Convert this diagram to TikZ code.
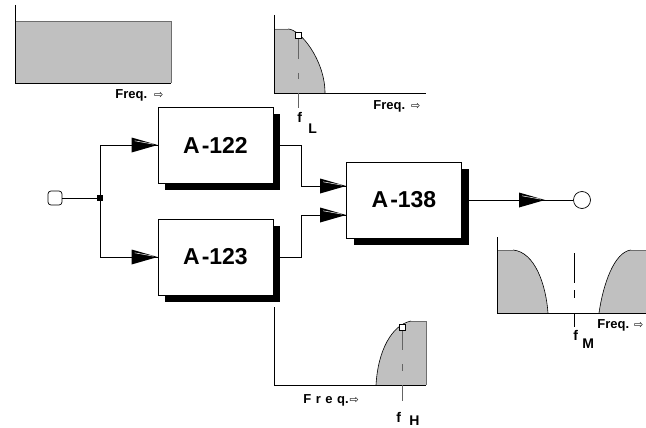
\documentclass[tikz,border=0pt]{standalone}
\usepackage{fontspec}
\setmainfont{Liberation Sans}
\newfontfamily\symfont{DejaVu Sans}
\usetikzlibrary{shadows,calc}
\definecolor{specgray}{RGB}{192,192,192}
\definecolor{rimgray}{RGB}{110,110,110}
\definecolor{tickgray}{RGB}{100,100,100}
\newcommand\freqarrow{{\symfont\mdseries\fontsize{11}{11}\selectfont ⇨}}
\begin{document}
\begin{tikzpicture}[x=1pt,y=-1pt,line width=0.8pt,
  block/.style={draw=black,fill=white,line width=0.8pt,minimum width=115pt,minimum height=76pt,inner sep=0,
    font=\bfseries\fontsize{23}{23}\selectfont,
    drop shadow={shadow xshift=7pt,shadow yshift=-7pt,fill=black,opacity=1}},
  freq/.style={font=\bfseries\fontsize{13}{13}\selectfont,inner sep=0,anchor=base west},
  flab/.style={font=\bfseries\fontsize{14}{14}\selectfont,inner sep=0,anchor=base west},
  curveline/.style={draw=black,line width=0.6pt},
  rimline/.style={draw=rimgray,line width=0.6pt},
  fline/.style={draw=tickgray,line width=0.8pt},
  fmark/.style={draw=black,fill=white,line width=0.5pt,minimum size=6pt,inner sep=0},
  arrhd/.pic={\fill[black] (-26,-7.5) -- (0,0) -- (-26,7.5) -- cycle;
              \draw[white,line width=0.5pt] (-23,-4.2) -- (-4,-0.8);}
]
\useasboundingbox (0,0) rectangle (646,428);

% ---------- top-left spectrum ----------
\fill[specgray] (15,21) rectangle (171,83);
\draw[rimline] (15,21) -- (171,21) -- (171,83);
\draw (15,5) -- (15,83) -- (171,83);
\node[freq] (fq1) at (115,99) {Freq.\hspace{7pt}\freqarrow};

% ---------- top-middle spectrum (f_L) ----------
\fill[specgray] (274,29) -- (288,29) .. controls (300,29) and (325,60) .. (325,93) -- (274,93) -- cycle;
\draw[rimline] (274,29) -- (288,29);
\draw[curveline] (288,29) .. controls (300,29) and (325,60) .. (325,93);
\draw (274,15) -- (274,93) -- (426,93);
\draw[fline] (298,38) -- (298,59);
\draw[fline] (298,73) -- (298,79);
\draw[fline] (298,93) -- (298,108);
\node[fmark] (mkL) at (298,35) {};
\node[flab] (fL) at (297,123) {f};
\node[flab] (fLs) at (308,133) {L};
\node[freq] (fq2) at (373,110) {Freq.\hspace{6pt}\freqarrow};

% ---------- right spectrum (f_M) ----------
\fill[specgray] (497,250) -- (513,250) .. controls (535,252) and (546,285) .. (548,313) -- (497,313) -- cycle;
\draw[curveline] (513,250) .. controls (535,252) and (546,285) .. (548,313);
\fill[specgray] (599,313) .. controls (603,285) and (614,252) .. (631,250) -- (646,250) -- (646,313) -- cycle;
\draw[curveline] (599,313) .. controls (603,285) and (614,252) .. (631,250);
\draw[rimline] (497,250) -- (513,250);
\draw[rimline] (631,250) -- (646,250);
\draw (497,237) -- (497,313) -- (646,313);
\draw (574,253) -- (574,283);
\draw (574,290) -- (574,298);
\draw (574,313) -- (574,327);
\node[flab] (fM) at (573,340) {f};
\node[flab] (fMs) at (582,348) {M};
\node[freq] (fq3) at (597,328) {Freq.\hspace{5pt}\freqarrow};

% ---------- bottom spectrum (f_H) ----------
\fill[specgray] (376,385) .. controls (378,350) and (392,325) .. (411,321) -- (426,321) -- (426,385) -- cycle;
\draw[curveline] (376,385) .. controls (378,350) and (392,325) .. (411,321);
\draw[rimline] (411,321) -- (426,321) -- (426,385);
\draw (274,307) -- (274,385) -- (426,385);
\draw[fline] (402,330) -- (402,350);
\draw[fline] (402,364) -- (402,371);
\draw[fline] (402,385) -- (402,401);
\node[fmark] (mkH) at (402,327) {};
\node[flab] (fH) at (396,422) {f};
\node[flab] (fHs) at (409,425.5) {H};
\node[freq] (fq4) at (303,403) {F\hspace{4.5pt}r\hspace{4.5pt}e\hspace{4.5pt}q.\hspace{1pt}\freqarrow};

% ---------- blocks ----------
\node[block] (a122) at (215.5,145) {A\kern2pt-122\hspace{20pt}};
\node[block] (a123) at (215.5,257) {A\kern2pt-123\hspace{20pt}};
\node[block] (a138) at (404,200) {A\kern2pt-138\hspace{6pt}};

% ---------- terminals ----------
\node[draw,rounded corners=3pt,minimum size=14pt,inner sep=0,line width=0.7pt] (in) at (55,198) {};
\node[fill=black,minimum size=5.5pt,inner sep=0] (jn) at (100,198) {};
\node[draw,circle,minimum size=17pt,inner sep=0,line width=0.7pt] (out) at (582,200) {};

% ---------- connectors ----------
\draw (in) -- (jn);
\draw (jn.center) |- (a122.west);
\draw (jn.center) |- (a123.west);
\pic at (a122.west) {arrhd};
\pic at (a123.west) {arrhd};

\coordinate (o122) at ([xshift=7pt]a122.east);
\coordinate (o123) at ([xshift=7pt]a123.east);
\coordinate (in1) at ([yshift=14pt]a138.west);
\coordinate (in2) at ([yshift=-15pt]a138.west);
\draw (o122) -- ++(21,0) |- (in1);
\draw (o123) -- ++(21,0) |- (in2);
\pic at (in1) {arrhd};
\pic at (in2) {arrhd};

\coordinate (o138) at ([xshift=7pt]a138.east);
\coordinate (tip) at (545,200);
\draw (o138) -- (out);
\pic at (tip) {arrhd};
\end{tikzpicture}
\end{document}
